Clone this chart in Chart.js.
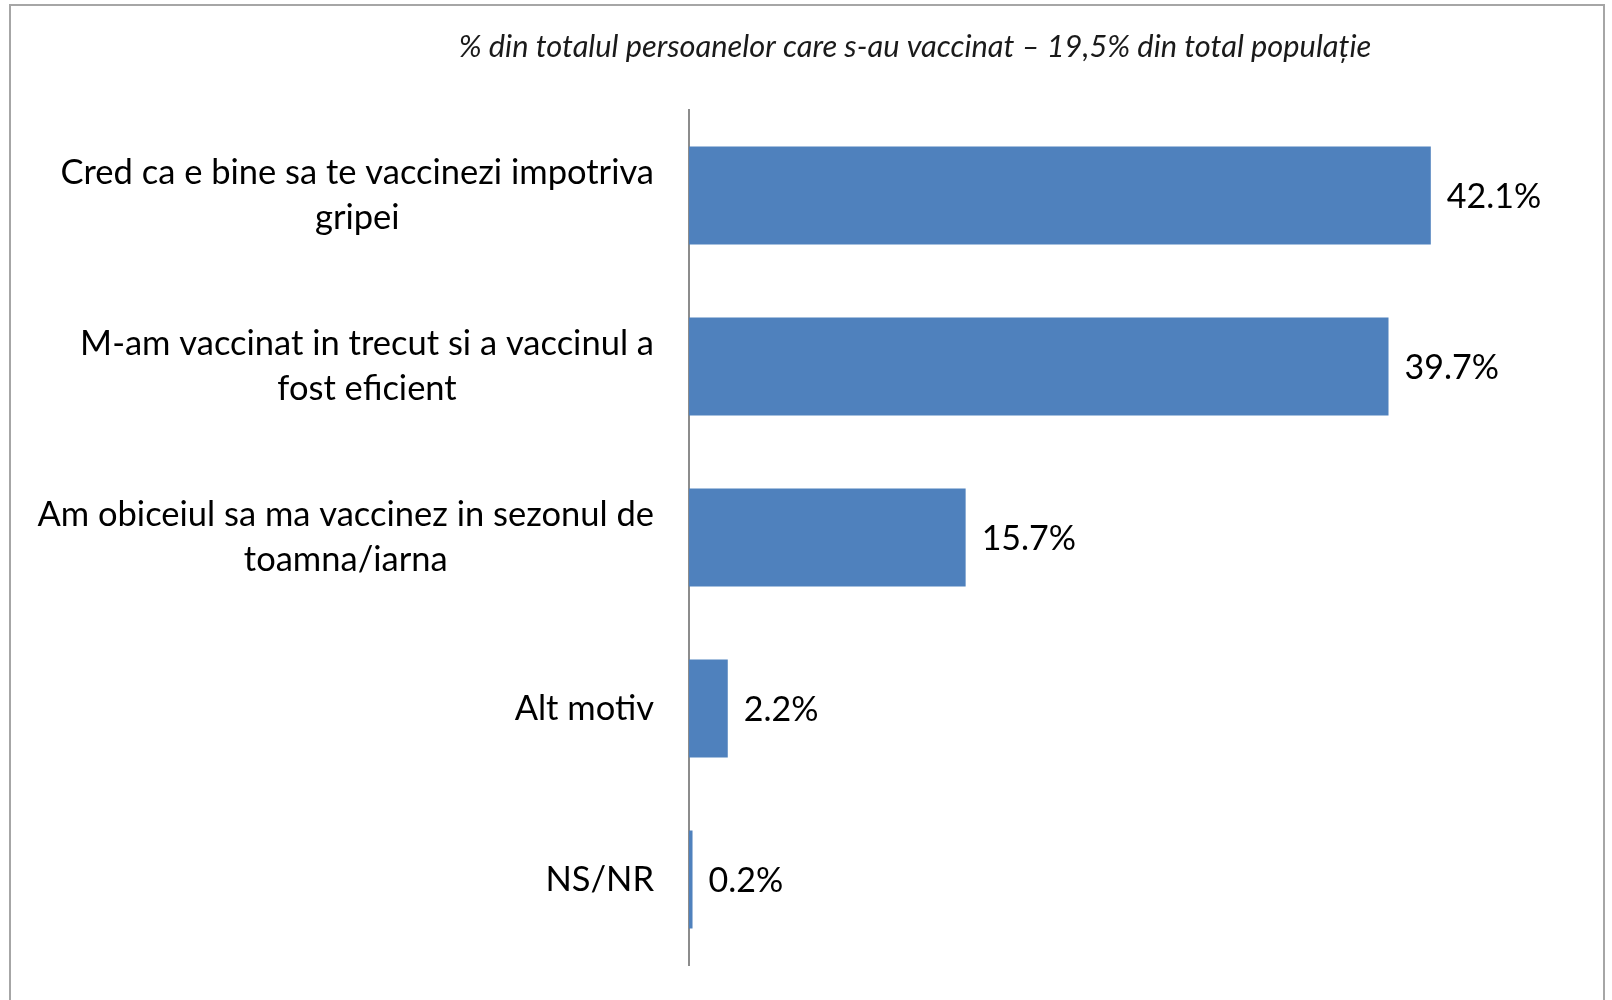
<!DOCTYPE html>
<html>
<head>
<meta charset="utf-8">
<script src="https://cdn.jsdelivr.net/npm/chart.js@4/dist/chart.umd.min.js"></script>
<style>
  html, body { margin: 0; padding: 0; background: #fff; }
  #frame { position: absolute; left: 9px; top: 4px; width: 1596px; height: 1000px;
           border: 2px solid #a6a6a6; box-sizing: border-box; }
  #wrap { position: absolute; left: 0; top: 0; width: 1612px; height: 1000px; }
</style>
</head>
<body>
<div id="frame"></div>
<div id="wrap"><canvas id="c" width="1612" height="1000"></canvas></div>
<script>
var categories = [
    ['Cred ca e bine sa te vaccinezi impotriva', 'gripei'],
    ['M-am vaccinat in trecut si a vaccinul a', 'fost eficient'],
    ['Am obiceiul sa ma vaccinez in sezonul de', 'toamna/iarna'],
    'Alt motiv',
    'NS/NR'
];
var values = [42.1, 39.7, 15.7, 2.2, 0.2];
var titleText = '% din totalul persoanelor care s-au vaccinat \u2013 19,5% din total popula\u021bie';

var FONT = 'Lato';
var LABEL_SIZE = 34.5;
var LINE_H = 45;

// category labels: block is right aligned to the axis, lines centred inside it (like Excel)
var catLabels = {
    id: 'catLabels',
    afterDraw: function(chart) {
        var ctx = chart.ctx;
        var y = chart.scales.y;
        ctx.save();
        ctx.font = LABEL_SIZE + 'px ' + FONT;
        ctx.fillStyle = '#000';
        ctx.textAlign = 'center';
        ctx.textBaseline = 'middle';
        categories.forEach(function(lbl, i) {
            var lines = Array.isArray(lbl) ? lbl : [lbl];
            var w = 0;
            lines.forEach(function(l) { w = Math.max(w, ctx.measureText(l).width); });
            var cx = chart.chartArea.left - 35 - w / 2;
            var cy = y.getPixelForTick(i);
            var y0 = cy - (lines.length - 1) * LINE_H / 2;
            lines.forEach(function(l, k) {
                ctx.fillText(l, cx, y0 + k * LINE_H);
            });
        });
        ctx.restore();
    }
};

// value labels at the end of each bar
var valueLabels = {
    id: 'valueLabels',
    afterDatasetsDraw: function(chart) {
        var ctx = chart.ctx;
        var meta = chart.getDatasetMeta(0);
        ctx.save();
        ctx.font = '34px ' + FONT;
        ctx.fillStyle = '#000';
        ctx.textAlign = 'left';
        ctx.textBaseline = 'middle';
        meta.data.forEach(function(bar, i) {
            ctx.fillText(values[i].toFixed(1) + '%', bar.x + 16, bar.y + 2);
        });
        ctx.restore();
    }
};

// italic subtitle, sits off-centre like the original
var topNote = {
    id: 'topNote',
    afterDraw: function(chart) {
        var ctx = chart.ctx;
        ctx.save();
        ctx.font = 'italic 30.8px ' + FONT;
        ctx.fillStyle = '#1a1a1a';
        ctx.textAlign = 'center';
        ctx.textBaseline = 'middle';
        ctx.fillText(titleText, 915, 47);
        ctx.restore();
    }
};

new Chart(document.getElementById('c'), {
    type: 'bar',
    data: {
        labels: categories,
        datasets: [{
            data: values,
            backgroundColor: '#4F81BD',
            borderWidth: 0,
            barPercentage: 0.573,
            categoryPercentage: 1
        }]
    },
    options: {
        indexAxis: 'y',
        responsive: false,
        animation: false,
        layout: { padding: { left: 0, right: 42, top: 110, bottom: 35 } },
        plugins: {
            legend: { display: false },
            tooltip: { enabled: false }
        },
        scales: {
            x: {
                display: false,
                min: 0,
                max: 50
            },
            y: {
                afterFit: function(scale) {
                    scale.width = 689;
                    scale.paddingTop = 0;
                    scale.paddingBottom = 0;
                },
                grid: { display: false, drawTicks: false },
                border: { display: true, color: '#8c8c8c', width: 2 },
                ticks: { display: false }
            }
        }
    },
    plugins: [catLabels, valueLabels, topNote]
});
</script>
</body>
</html>
